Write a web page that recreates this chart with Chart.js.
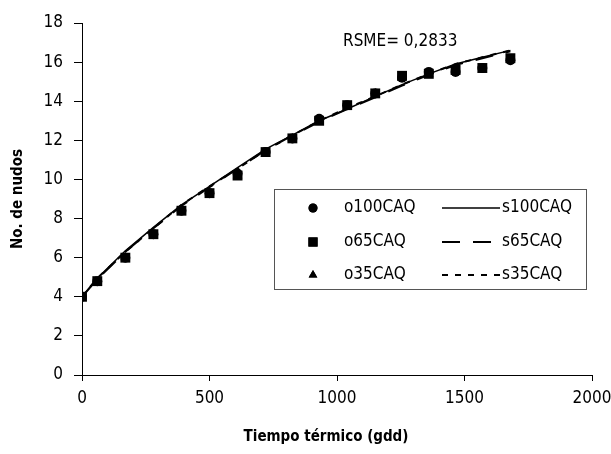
<!DOCTYPE html>
<html>
<head>
<meta charset="utf-8">
<script src="https://cdn.jsdelivr.net/npm/chart.js@4.4.0/dist/chart.umd.min.js"></script>
<style>
  html, body { margin: 0; padding: 0; background: #fff; }
  #wrap { width: 611px; height: 454px; }
</style>
</head>
<body>
<div id="wrap"><canvas id="chart"></canvas></div>
<script>
// tiempo termico (gdd)
const gdd = [0, 60, 170, 280, 390, 500, 610, 720, 825, 930, 1040, 1150, 1255, 1360, 1465, 1570, 1680]
// observados
const o100CAQ = [4.0, 4.8, 6.0, 7.2, 8.4, 9.3, 10.3, 11.4, 12.1, 13.1, 13.8, 14.4, 15.2, 15.5, 15.5, 15.7, 16.1]
const o65CAQ = [4.0, 4.8, 6.0, 7.2, 8.4, 9.3, 10.2, 11.4, 12.1, 13.0, 13.8, 14.4, 15.3, 15.4, 15.6, 15.7, 16.2]
const o35CAQ = [4.0, 4.7, 6.0, 7.1, 8.4, 9.3, 10.2, 11.3, 12.1, 13.0, 13.7, 14.4, 15.2, 15.4, 15.5, 15.6, 16.1]
// simulados
const s100CAQ = [4.0, 4.95, 6.35, 7.55, 8.7, 9.65, 10.6, 11.55, 12.27, 13.0, 13.6, 14.25, 14.85, 15.4, 15.9, 16.25, 16.6]
const s65CAQ = [4.0, 4.9, 6.3, 7.5, 8.65, 9.6, 10.55, 11.5, 12.25, 12.95, 13.6, 14.2, 14.8, 15.35, 15.85, 16.2, 16.55]
const s35CAQ = [4.0, 4.95, 6.3, 7.5, 8.7, 9.65, 10.55, 11.5, 12.25, 13.0, 13.65, 14.25, 14.85, 15.4, 15.9, 16.25, 16.6]
const xTicks = [0, 500, 1000, 1500, 2000]
const yTicks = [0, 2, 4, 6, 8, 10, 12, 14, 16, 18]
const rsmeText = 'RSME= 0,2833'
const xTitle = 'Tiempo térmico (gdd)'
const yTitle = 'No. de nudos'

const FONT = "'DejaVu Sans Condensed', 'Liberation Sans Narrow', sans-serif"

function pts(ys){ return gdd.map((x, i) => ({x: x, y: ys[i]})) }

const obs = [
  {label: 'o100CAQ', data: o100CAQ, style: 'circle', r: 5},
  {label: 'o65CAQ', data: o65CAQ, style: 'rect', r: 7},
  {label: 'o35CAQ', data: o35CAQ, style: 'triangle', r: 5.5}
]
const sim = [
  {label: 's100CAQ', data: s100CAQ, dash: [], w: 1.5},
  {label: 's65CAQ', data: s65CAQ, dash: [18, 13], w: 2},
  {label: 's35CAQ', data: s35CAQ, dash: [6, 7], w: 2}
]

const datasets = []
sim.forEach((s, i) => datasets.push({
  label: s.label, data: pts(s.data), showLine: true, borderColor: '#000',
  borderWidth: s.w, borderDash: s.dash, pointRadius: 0, fill: false, order: 10 + i
}))
obs.forEach((o, i) => datasets.push({
  label: o.label, data: pts(o.data), showLine: false, pointStyle: o.style,
  pointRadius: o.r, backgroundColor: '#000', borderColor: '#000', borderWidth: 0,
  order: [3, 1, 2][i]
}))

// legend box, RSME label, x title (excel puts it a bit left of centre)
const extras = {
  id: 'extras',
  afterDraw(chart){
    const ctx = chart.ctx
    ctx.save()
    ctx.fillStyle = '#000'
    ctx.textBaseline = 'middle'
    ctx.textAlign = 'center'
    ctx.font = 'bold 15px ' + FONT
    ctx.fillText(xTitle, 326, 437)

    ctx.textAlign = 'left'
    ctx.font = '17px ' + FONT
    ctx.fillText(rsmeText, 343, 42)

    ctx.strokeStyle = '#555'
    ctx.lineWidth = 1
    ctx.strokeRect(274.5, 189.5, 312, 100)
    const rows = [208, 242, 275]
    obs.forEach((o, i) => {
      const y = rows[i]
      Chart.helpers.drawPoint(ctx, {pointStyle: o.style, radius: o.r - 0.5, borderWidth: 0}, 313, y)
      ctx.fillStyle = '#000'
      ctx.fill()
      ctx.fillText(o.label, 344, y)
      const s = sim[i]
      ctx.beginPath()
      ctx.setLineDash(s.dash)
      ctx.lineWidth = s.w
      ctx.strokeStyle = '#000'
      ctx.moveTo(442, y)
      ctx.lineTo(500, y)
      ctx.stroke()
      ctx.setLineDash([])
      ctx.fillText(s.label, 502, y)
    })
    ctx.restore()
  }
}

new Chart(document.getElementById('chart'), {
  type: 'scatter',
  data: {datasets: datasets},
  options: {
    responsive: true,
    maintainAspectRatio: false,
    animation: false,
    layout: {padding: {top: 23, right: 19, left: 0, bottom: 0}},
    plugins: {legend: {display: false}, tooltip: {enabled: false}},
    scales: {
      x: {
        type: 'linear', min: 0, max: 2000,
        afterBuildTicks: s => { s.ticks = xTicks.map(v => ({value: v})) },
        afterFit: s => { s.height = 79; s.paddingLeft = 0; s.paddingRight = 0 },
        ticks: {color: '#000', padding: 7, font: {family: FONT, size: 17}, callback: v => String(v)},
        grid: {drawOnChartArea: false, drawTicks: true, tickLength: 6, color: '#000'},
        border: {color: '#000', width: 1}
      },
      y: {
        type: 'linear', min: 0, max: 18,
        afterBuildTicks: s => { s.ticks = yTicks.map(v => ({value: v})) },
        afterFit: s => { s.width = 82; s.paddingTop = 0; s.paddingBottom = 0 },
        ticks: {color: '#000', padding: 11, font: {family: FONT, size: 17}, callback: v => String(v)},
        grid: {drawOnChartArea: false, drawTicks: true, tickLength: 8, color: '#000'},
        border: {color: '#000', width: 1},
        title: {display: true, text: yTitle, color: '#000',
          font: {family: FONT, size: 15, weight: 'bold'}, padding: {top: 9, bottom: 0}}
      }
    }
  },
  plugins: [extras]
})
</script>
</body>
</html>
